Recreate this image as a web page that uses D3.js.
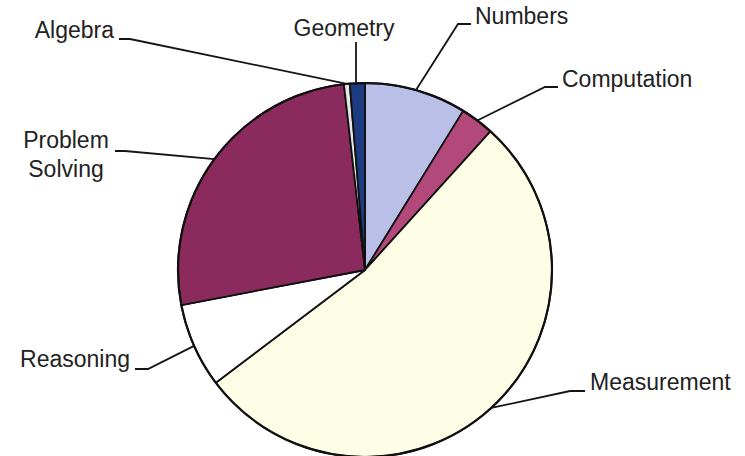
<!DOCTYPE html>
<html>
<head>
<meta charset="utf-8">
<script src="https://cdn.jsdelivr.net/npm/d3@7/dist/d3.min.js"></script>
<style>
  html, body { margin: 0; padding: 0; background: #ffffff; }
  svg { display: block; }
</style>
</head>
<body>
<svg id="chart" width="745" height="456"></svg>
<script>
// ---- Data ----
const categories = ["Numbers", "Computation", "Measurement", "Reasoning", "Problem Solving", "Algebra", "Geometry"];
const values = [8.8, 2.9, 53.0, 7.3, 26.2, 0.5, 1.3];
const colors = ["#b9bfe6", "#b3497a", "#fefde6", "#ffffff", "#8b2a5d", "#e6e6e6", "#1d3b80"];

// ---- Label layout (positions only) ----
const labelLayout = {
  "Numbers":         { elbow: [458, 24], end: [471, 24], text: [475, 24], anchor: "start", lines: ["Numbers"] },
  "Computation":     { elbow: [545, 87], end: [558, 87], text: [562, 87], anchor: "start", lines: ["Computation"] },
  "Measurement":     { elbow: [570, 391], end: [585, 391], text: [590, 390], anchor: "start", lines: ["Measurement"] },
  "Reasoning":       { elbow: [148, 369], end: [135, 369], text: [130, 367], anchor: "end", lines: ["Reasoning"] },
  "Problem Solving": { elbow: [125, 151], end: [115, 151], text: [66, 148], anchor: "middle", lines: ["Problem", "Solving"] },
  "Algebra":         { elbow: [130, 39], end: [119, 39], text: [114, 38], anchor: "end", lines: ["Algebra"] },
  "Geometry":        { elbow: null, end: [356, 42], text: [344, 36], anchor: "middle", lines: ["Geometry"], vertical: true }
};

const W = 745, H = 456;
const cx = 365, cy = 270, R = 187;

const svg = d3.select("#chart");
const g = svg.append("g").attr("transform", `translate(${cx},${cy})`);

const data = categories.map((c, i) => ({ name: c, value: values[i], color: colors[i] }));

const pie = d3.pie().sort(null).value(d => d.value);
const arcs = pie(data);
const arc = d3.arc().innerRadius(0).outerRadius(R);
const edgeArc = d3.arc().innerRadius(R).outerRadius(R);

g.selectAll("path.slice")
  .data(arcs)
  .enter().append("path")
  .attr("class", "slice")
  .attr("d", arc)
  .attr("fill", d => d.data.color)
  .attr("stroke", "#111")
  .attr("stroke-width", 1.8)
  .attr("stroke-linejoin", "round");

// outer outline
g.append("circle").attr("r", R).attr("fill", "none").attr("stroke", "#111").attr("stroke-width", 2.2);

// leader lines and labels
const lab = svg.append("g");
arcs.forEach(a => {
  const L = labelLayout[a.data.name];
  const p = edgeArc.centroid(a);
  const start = [cx + p[0], cy + p[1]];
  let pts;
  if (L.vertical) {
    pts = [[L.end[0], start[1]], L.end];
  } else {
    pts = [start, L.elbow, L.end];
  }
  lab.append("path")
    .attr("d", d3.line()(pts))
    .attr("fill", "none")
    .attr("stroke", "#151515")
    .attr("stroke-width", 1.8);
  const t = lab.append("text")
    .attr("x", L.text[0])
    .attr("y", L.text[1])
    .attr("text-anchor", L.anchor)
    .attr("font-family", "'Liberation Sans', Arial, sans-serif")
    .attr("font-size", 23)
    .attr("fill", "#222");
  L.lines.forEach((ln, i) => {
    t.append("tspan").attr("x", L.text[0]).attr("dy", i === 0 ? 0 : 29).text(ln);
  });
});
</script>
</body>
</html>
